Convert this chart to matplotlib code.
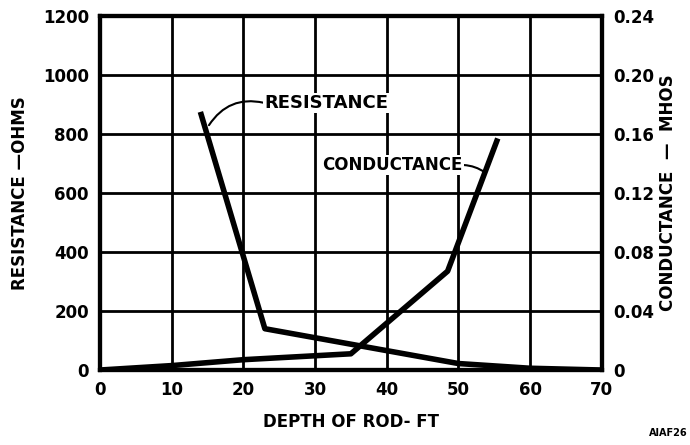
import matplotlib
matplotlib.use("Agg")
import matplotlib.pyplot as plt

# data
res_depth = [14, 23, 50, 60, 70]
res_ohms = [875, 140, 22, 6, 0]

cond_depth = [0, 10, 20, 35, 48.5, 55.5]
cond_mhos = [0, 0.003, 0.007, 0.011, 0.067, 0.157]

x_ticks = [0, 10, 20, 30, 40, 50, 60, 70]
res_ticks = [0, 200, 400, 600, 800, 1000, 1200]
cond_ticks = [0, 0.04, 0.08, 0.12, 0.16, 0.20, 0.24]
cond_labels = ["0", "0.04", "0.08", "0.12", "0.16", "0.20", "0.24"]

plt.rcParams["font.family"] = "DejaVu Sans"
plt.rcParams["font.weight"] = "bold"

fig = plt.figure(figsize=(6.9, 4.45), dpi=100)
ax = fig.add_axes([0.145, 0.1685, 0.727, 0.7955])
ax2 = ax.twinx()

ax.set_xlim(0, 70)
ax.set_ylim(0, 1200)
ax2.set_ylim(0, 0.24)

ax.set_xticks(x_ticks)
ax.set_yticks(res_ticks)
ax2.set_yticks(cond_ticks)
ax2.set_yticklabels(cond_labels)

ax.grid(True, color="black", linewidth=2)
ax.set_axisbelow(True)
for a in (ax, ax2):
    for s in a.spines.values():
        s.set_linewidth(3)
    a.tick_params(length=0, labelsize=12, pad=8)

ax.plot(res_depth, res_ohms, color="black", linewidth=4, solid_capstyle="butt", zorder=3)
ax2.plot(cond_depth, cond_mhos, color="black", linewidth=4, solid_capstyle="butt", zorder=3)

ax.set_xlabel("DEPTH OF ROD- FT", fontsize=12, fontweight="bold", labelpad=10)
ax.set_ylabel("RESISTANCE \u2014OHMS", fontsize=12, fontweight="bold", labelpad=10)
ax2.set_ylabel("CONDUCTANCE  \u2014  MHOS", fontsize=12, fontweight="bold", labelpad=4)

box = dict(facecolor="white", edgecolor="none", pad=1)
ax2.annotate("RESISTANCE", xy=(15.2, 830 / 5000), xytext=(23, 905 / 5000),
             fontsize=13, fontweight="bold", va="center", ha="left", bbox=box,
             arrowprops=dict(arrowstyle="-", color="black", linewidth=1.5, relpos=(0, 0.5),
                             connectionstyle="arc3,rad=0.35", shrinkA=0, shrinkB=0),
             zorder=4)
ax2.annotate("CONDUCTANCE", xy=(53.7, 0.134), xytext=(31, 695 / 5000),
             fontsize=12, fontweight="bold", va="center", ha="left", bbox=box,
             arrowprops=dict(arrowstyle="-", color="black", linewidth=1.5, relpos=(1, 0.5),
                             connectionstyle="arc3,rad=-0.15", shrinkA=0, shrinkB=0),
             zorder=4)

fig.text(0.94, 0.015, "AIAF26", fontsize=7, fontweight="bold", ha="left", va="bottom")

fig.savefig("out.png", dpi=100)
